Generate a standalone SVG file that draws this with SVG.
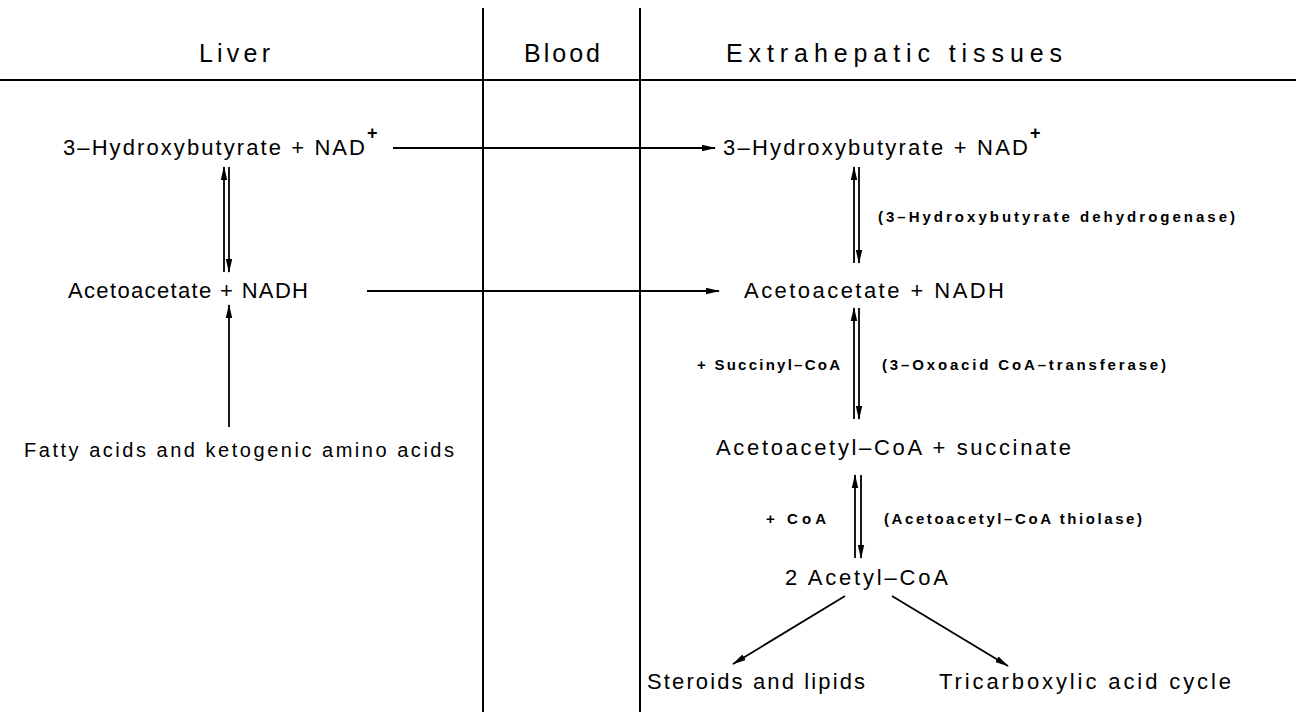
<svg xmlns="http://www.w3.org/2000/svg" width="1296" height="712" viewBox="0 0 1296 712">
<defs>
<marker id="ah" viewBox="0 0 14 8" refX="13" refY="4" markerWidth="14" markerHeight="8" markerUnits="userSpaceOnUse" orient="auto">
<path d="M0,0.8 L14,4 L0,7.2 Z" fill="#000"/>
</marker>
<style>
.t{font-family:"Liberation Sans",Arial,sans-serif;font-size:22px;fill:#000}
.f{font-family:"Liberation Sans",Arial,sans-serif;font-size:20px;fill:#000}
.h{font-family:"Liberation Sans",Arial,sans-serif;font-size:25px;fill:#000}
.b{font-family:"Liberation Sans",Arial,sans-serif;font-size:15px;font-weight:bold;fill:#000}
.sup{font-family:"Liberation Sans",Arial,sans-serif;font-size:18px;font-weight:bold;fill:#000}
.ln{stroke:#000;stroke-width:2;fill:none}
.ar{stroke:#000;stroke-width:1.8;fill:none;marker-end:url(#ah)}
</style>
</defs>
<rect width="1296" height="712" fill="#fff"/>
<g id="frame">
<line class="ln" x1="0" y1="80" x2="1296" y2="80" stroke-width="2.4"/>
<line class="ln" x1="483" y1="8" x2="483" y2="712"/>
<line class="ln" x1="640" y1="8" x2="640" y2="712"/>
</g>
<g id="headers">
<text class="h" x="199" y="62" textLength="71">Liver</text>
<text class="h" x="524" y="62" textLength="76">Blood</text>
<text class="h" x="726" y="62" textLength="336">Extrahepatic tissues</text>
</g>
<g id="liver-hb">
<text class="t" x="63" y="155" textLength="302">3–Hydroxybutyrate + NAD</text>
<text class="sup" x="367" y="139">+</text>
</g>
<g id="liver-aa">
<text class="t" x="68" y="298" textLength="240">Acetoacetate + NADH</text>
</g>
<g id="liver-fa">
<text class="f" x="24" y="457" textLength="430">Fatty acids and ketogenic amino acids</text>
</g>
<g id="ext-hb">
<text class="t" x="723" y="155" textLength="305">3–Hydroxybutyrate + NAD</text>
<text class="sup" x="1030" y="139">+</text>
</g>
<g id="ext-aa">
<text class="t" x="744" y="298" textLength="260">Acetoacetate + NADH</text>
</g>
<g id="ext-acacoa">
<text class="t" x="716" y="455" textLength="355">Acetoacetyl–CoA + succinate</text>
</g>
<g id="ext-acetylcoa">
<text class="t" x="785" y="585" textLength="163">2 Acetyl–CoA</text>
</g>
<g id="ext-steroids">
<text class="t" x="647" y="689" textLength="218">Steroids and lipids</text>
</g>
<g id="ext-tca">
<text class="t" x="939" y="689" textLength="292">Tricarboxylic acid cycle</text>
</g>
<g id="labels">
<text class="b" x="878" y="222" textLength="357">(3–Hydroxybutyrate dehydrogenase)</text>
<text class="b" x="697" y="370" textLength="143">+ Succinyl–CoA</text>
<text class="b" x="882" y="370" textLength="284">(3–Oxoacid CoA–transferase)</text>
<text class="b" x="766" y="524" textLength="60">+ CoA</text>
<text class="b" x="884" y="524" textLength="258">(Acetoacetyl–CoA thiolase)</text>
</g>
<g id="connectors">
<line class="ar" x1="393" y1="148" x2="715" y2="148"/>
<line class="ar" x1="367" y1="291" x2="719" y2="291"/>
<line class="ar" x1="229" y1="427" x2="229" y2="305"/>
<line class="ar" x1="224" y1="272" x2="224" y2="167"/>
<line class="ar" x1="229" y1="167" x2="229" y2="272"/>
<line class="ar" x1="854" y1="263" x2="854" y2="167"/>
<line class="ar" x1="859" y1="167" x2="859" y2="263"/>
<line class="ar" x1="854" y1="419" x2="854" y2="308"/>
<line class="ar" x1="859" y1="308" x2="859" y2="419"/>
<line class="ar" x1="855" y1="558" x2="855" y2="475"/>
<line class="ar" x1="861" y1="475" x2="861" y2="558"/>
<line class="ar" x1="845" y1="596" x2="733" y2="664"/>
<line class="ar" x1="892" y1="596" x2="1008" y2="666"/>
</g>
</svg>
